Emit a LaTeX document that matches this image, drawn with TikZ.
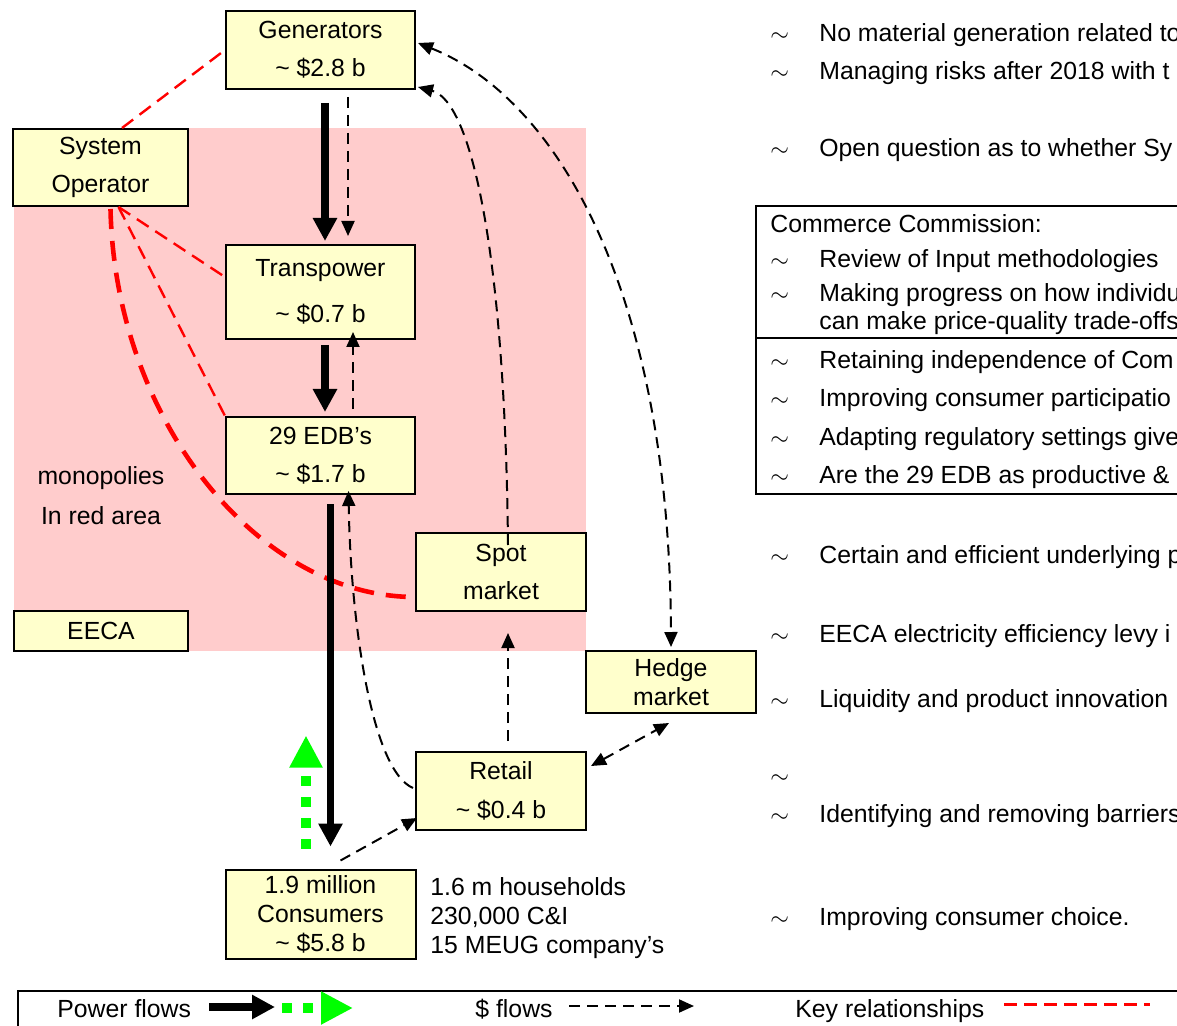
\documentclass[tikz,border=0pt]{standalone}
\usepackage{fontspec}
\setmainfont{Liberation Sans}
\usetikzlibrary{arrows.meta}
\definecolor{boxfill}{RGB}{255,255,204}
\definecolor{redarea}{RGB}{255,204,204}
\definecolor{pgreen}{RGB}{0,255,0}
\newcommand{\tbul}{\makebox[24.5pt][l]{$\sim$}}

\begin{document}
\begin{tikzpicture}[x=0.5pt,y=-0.5pt,>={Triangle[length=7.5pt,width=6.5pt]},
	every node/.style={font=\fontsize{12.4}{15}\selectfont},
	box/.style={draw,fill=boxfill,line width=1pt,align=center,inner sep=0pt,font=\fontsize{12.4}{#1}\selectfont},
	box/.default=19pt,
	txt/.style={anchor=base west,inner sep=0pt},
	pflow/.style={line width=3.8pt,-{Triangle[length=11.5pt,width=11.5pt]}},
	gflow/.style={pgreen,line width=5.25pt,dash pattern=on 5pt off 5.5pt,-{Triangle[length=16pt,width=15.5pt]}},
	dflow/.style={line width=1pt,dash pattern=on 5.5pt off 3.5pt},
	keyrel/.style={red,line width=1.2pt,dash pattern=on 7pt off 4pt},
	keyrelthick/.style={red,line width=2.3pt,dash pattern=on 10pt off 6pt}]
	\useasboundingbox (0,0) rectangle (1177,1026);
	\clip (0,0) rectangle (1177,1026);
	\fill[redarea] (14,128) rectangle (586,651);

	\node[box,minimum width=94.5pt,minimum height=39pt] (gen) at (320.5,50) {Generators\\\textasciitilde\ \$2.8 b};
	\node[box,minimum width=87.5pt,minimum height=38.5pt] (sysop) at (100.5,167.5) {System\\Operator};
	\node[box=23pt,minimum width=94.5pt,minimum height=47pt] (trans) at (320.5,292) {Transpower\\\textasciitilde\ \$0.7 b};
	\node[box,minimum width=94.5pt,minimum height=38.5pt] (edb) at (320.5,455.5) {29 EDB’s\\\textasciitilde\ \$1.7 b};
	\node[box,minimum width=85pt,minimum height=39pt] (spot) at (501,572) {Spot\\market};
	\node[box,minimum width=87pt,minimum height=20pt] (eeca) at (101,631) {EECA};
	\node[box=14.5pt,minimum width=85pt,minimum height=31pt] (hedge) at (671,682) {Hedge\\market};
	\node[box=19.5pt,minimum width=85pt,minimum height=39pt] (retail) at (501,791) {Retail\\\textasciitilde\ \$0.4 b};
	\node[box=14.5pt,minimum width=95pt,minimum height=44.5pt] (cons) at (320.5,914) {1.9 million\\Consumers\\\textasciitilde\ \$5.8 b};
	\node[align=left,anchor=west,inner sep=0pt,font=\fontsize{12.4}{14.5}\selectfont] (consinfo) at (430,918) {1.6 m households\\230,000 C\&I\\15 MEUG company’s};
	\node[align=center,font=\fontsize{12.4}{20}\selectfont] (mono) at (101,496) {monopolies\\In red area};

	\node[txt] (t1) at (770,42) {\tbul No material generation related to};
	\node[txt] (t2) at (770,80) {\tbul Managing risks after 2018 with t};
	\node[txt] (t3) at (770,157) {\tbul Open question as to whether Sy};
	\draw[line width=1pt] (756,206) rectangle (1200,494);
	\draw[line width=1pt] (756,338) -- (1200,338);
	\node[txt] (cc) at (770,233) {Commerce Commission:};
	\node[txt] (c1) at (770,268) {\tbul Review of Input methodologies};
	\node[txt] (c2) at (770,302) {\tbul Making progress on how individu};
	\node[txt] (c2b) at (819,330) {can make price-quality trade-offs};
	\node[txt] (c3) at (770,369) {\tbul Retaining independence of Com};
	\node[txt] (c4) at (770,407) {\tbul Improving consumer participatio};
	\node[txt] (c5) at (770,445) {\tbul Adapting regulatory settings give};
	\node[txt] (c6) at (770,483) {\tbul Are the 29 EDB as productive \&};
	\node[txt] (t4) at (770,563) {\tbul Certain and efficient underlying p};
	\node[txt] (t5) at (770,642) {\tbul EECA electricity efficiency levy i};
	\node[txt] (t6) at (770,707) {\tbul Liquidity and product innovation};
	\node[txt] (t7) at (770,783) {\tbul};
	\node[txt] (t8) at (770,822) {\tbul Identifying and removing barriers};
	\node[txt] (t9) at (770,925) {\tbul Improving consumer choice.};

	\draw[keyrel] ([shift={(21.5,0)}]sysop.north) -- (gen.west);
	\draw[keyrel] ([shift={(18,0)}]sysop.south) -- ([shift={(0,-15)}]trans.west);
	\draw[keyrel] ([shift={(18,0)}]sysop.south) -- (edb.north west);
	\draw[keyrelthick] ([shift={(10,2)}]sysop.south) .. controls +(4.5,212) and +(-156,0) .. ([shift={(0,25)}]spot.west);

	\draw[pflow] ([shift={(4.5,13)}]gen.south) -- ([shift={(4.5,-3)}]trans.north);
	\draw[pflow] ([shift={(4.5,5)}]trans.south) -- ([shift={(4.5,-4)}]edb.north);
	\draw[pflow,line width=3.5pt] ([shift={(10,9)}]edb.south) -- ([shift={(10,-22)}]cons.north);
	\draw[gflow] ([shift={(-14.5,-20)}]cons.north) -- ([shift={(-14.5,-133)}]cons.north);

	\draw[dflow,->] ([shift={(27.5,7)}]gen.south) -- ([shift={(27.5,-8)}]trans.north);
	\draw[dflow,->] ([shift={(32.5,-7)}]edb.north) -- ([shift={(32.5,-8)}]trans.south);
	\draw[dflow,->] ([shift={(-2,-3)}]retail.west) .. controls +(-42,-18) and +(2,128) .. ([shift={(28,-4)}]edb.south);
	\draw[dflow,->] ([shift={(7,-27)}]spot.center) .. controls +(-3,-295) and +(53,14) .. ([shift={(2,-3)}]gen.south east);
	\draw[dflow,<->] ([shift={(2,-7)}]gen.east) .. controls +(143,57) and +(-1,-348) .. ([shift={(0,-3)}]hedge.north);
	\draw[dflow,->] ([shift={(7,-10)}]retail.north) -- ([shift={(7,21)}]spot.south);
	\draw[dflow,<->] ([shift={(4,15)}]retail.north east) -- ([shift={(-2,9)}]hedge.south);
	\draw[dflow,->] ([shift={(20,-8)}]cons.north) -- ([shift={(2,-13)}]retail.south west);

	\draw[line width=1pt] (18,991) rectangle (1200,1060);
	\node[txt] (lpow) at (57,1017) {Power flows};
	\node[txt] (ldol) at (475,1017) {\$ flows};
	\node[txt] (lkey) at (795,1017) {Key relationships};
	\coordinate (pw1) at (209,1007);
	\coordinate (pw2) at (275,1007);
	\coordinate (gr1) at (282,1008);
	\coordinate (gr2) at (353,1008);
	\coordinate (df1) at (569,1006);
	\coordinate (df2) at (694,1006);
	\coordinate (kr1) at (1004,1004);
	\coordinate (kr2) at (1150,1004);
	\draw[pflow,line width=4pt] (pw1) -- (pw2);
	\draw[gflow] (gr1) -- (gr2);
	\draw[dflow,->] (df1) -- (df2);
	\draw[keyrel,line width=1.5pt,dash pattern=on 6.5pt off 3.5pt] (kr1) -- (kr2);
\end{tikzpicture}
\end{document}
